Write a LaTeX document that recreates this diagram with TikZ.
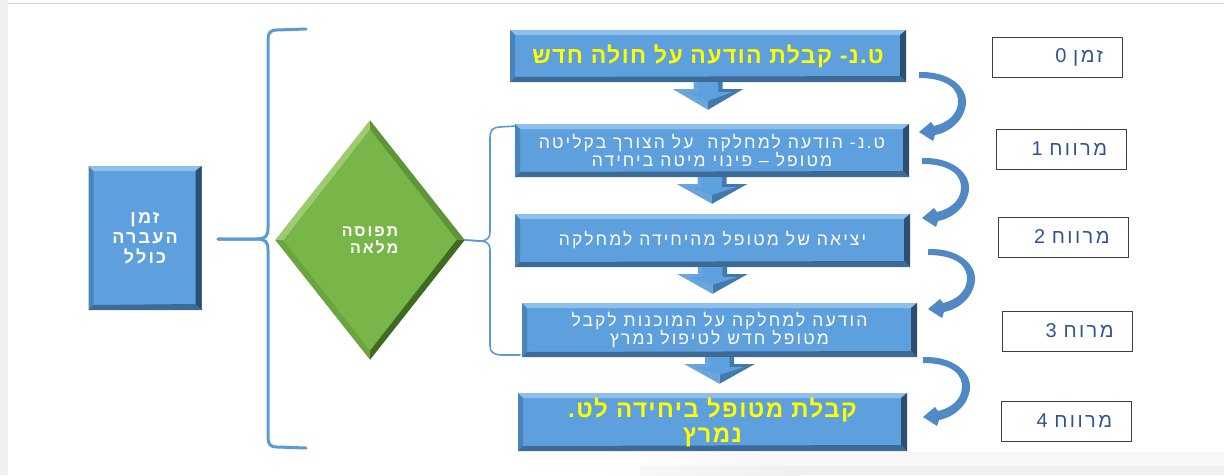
\documentclass[tikz,border=0pt]{standalone}
\usepackage{fontspec}
\setmainfont{Liberation Sans}
\newfontfamily\heb[Script=Hebrew]{Liberation Sans}
\newfontfamily\hebsp[Script=Hebrew,LetterSpace=12]{Liberation Sans}
\newfontfamily\hebmid[Script=Hebrew,LetterSpace=6]{Liberation Sans}
\TeXXeTstate=1
\usetikzlibrary{shapes.geometric,calc}
\newcommand\rtl[1]{\beginR #1\endR}
\definecolor{boxblue}{HTML}{5E9FDD}
\definecolor{bevlight}{HTML}{8FC0EC}
\definecolor{bevleft}{HTML}{4A84BD}
\definecolor{bevright}{HTML}{2D4E70}
\definecolor{bevbottom}{HTML}{3E6A96}
\definecolor{arrowlight}{HTML}{6AA6DE}
\definecolor{arrowdark}{HTML}{4479AE}
\definecolor{curvblue}{HTML}{5089C4}
\definecolor{diamgreen}{HTML}{79B64A}
\definecolor{glight}{HTML}{9CCB70}
\definecolor{gmid}{HTML}{5E9538}
\definecolor{gdark}{HTML}{3F6A22}
\definecolor{gleft}{HTML}{6CA540}
\definecolor{bracecol}{HTML}{5B9BD5}
\definecolor{labelblue}{HTML}{2F5496}
\definecolor{txtyellow}{HTML}{FFFF00}
\tikzset{
  bevelbox/.style={rectangle, fill=boxblue, inner sep=2pt, align=center,
    path picture={
      \coordinate (nw) at (path picture bounding box.north west);
      \coordinate (ne) at (path picture bounding box.north east);
      \coordinate (sw) at (path picture bounding box.south west);
      \coordinate (se) at (path picture bounding box.south east);
      \fill[bevlight] (nw) -- (ne) -- ($(ne)+(-6,5)$) -- ($(nw)+(5,5)$) -- cycle;
      \fill[bevleft] (nw) -- (sw) -- ($(sw)+(5,-5)$) -- ($(nw)+(5,5)$) -- cycle;
      \fill[bevright] (ne) -- (se) -- ($(se)+(-6,-6)$) -- ($(ne)+(-6,5)$) -- cycle;
      \fill[bevbottom] (sw) -- (se) -- ($(se)+(-6,-6)$) -- ($(sw)+(5,-5)$) -- cycle;
    }},
  yellowtxt/.style={text=txtyellow, font=\hebmid\bfseries\fontsize{23}{25}\selectfont},
  whitetxt/.style={text=white, font=\hebsp\fontsize{17.5}{18}\selectfont},
  timebox/.style={rectangle, draw=black!75, line width=0.9pt, fill=white,
    minimum height=40pt, text width=92pt, inner xsep=19pt, inner ysep=0pt,
    align=right, text=labelblue, font=\hebsp\fontsize{20}{20}\selectfont},
  bracestyle/.style={draw=bracecol, line cap=round, line join=round},
}
\newcommand\blockdown[3]{%
  \fill[arrowlight] let \p1=(#1.south), \p2=(#2.north) in
    (\x1-14.5pt,\y1) -- (\x1,\y1) -- (\x1,\y2+#3) -- (\x1-35pt,\y1-7pt) -- (\x1-14.5pt,\y1-7pt) -- cycle;
  \fill[arrowdark] let \p1=(#1.south), \p2=(#2.north) in
    (\x1+14.5pt,\y1) -- (\x1,\y1) -- (\x1,\y2+#3) -- (\x1+35pt,\y1-7pt) -- (\x1+14.5pt,\y1-7pt) -- cycle;
  \fill[boxblue] let \p1=(#1.south), \p2=(#2.north) in
    (\x1-10pt,\y1) -- (\x1+10pt,\y1) -- (\x1+10pt,\y1-10pt) -- (\x1+24pt,\y1-10pt) -- (\x1,\y2+#3+9pt) -- (\x1-24pt,\y1-10pt) -- (\x1-10pt,\y1-10pt) -- cycle;
}
\newcommand\curvarrow[1]{%
  \fill[curvblue, shift={(#1)}] (0,-3) .. controls (30,-4) and (48,12) .. (47,28)
    .. controls (46,44) and (32,57) .. (16,60) -- (14,66) -- (0,57) -- (12,47) -- (15,51)
    .. controls (28,48) and (38,40) .. (39,28) .. controls (40,14) and (28,3) .. (0,3) -- cycle;
}
\begin{document}
\begin{tikzpicture}[x=1pt,y=-1pt]
\useasboundingbox (0,0) rectangle (1224,475);
% page background
\fill[white] (0,0) rectangle (1224,475);
\fill[black!6] (0,0) rectangle (8,475);
\draw[black!18, line width=0.8pt] (8,3) -- (1224,3);
\shade[left color=white, right color=black!3] (600,452) rectangle (760,475);
\fill[black!3] (760,452) rectangle (1224,475);
\shade[left color=black!3, right color=black!6] (640,466) rectangle (800,475);
\fill[black!6] (800,466) rectangle (1224,475);

% left box
\node[bevelbox, minimum width=113pt, minimum height=144pt, text=white,
  font=\hebsp\bfseries\fontsize{18}{20}\selectfont] (lb) at (145,238)
  {\rtl{זמן}\\ \rtl{העברה}\\ \rtl{כולל}};

% big brace
\coordinate (bt) at (218,239);
\draw[bracestyle, line width=3pt] (306,29) -- (277,30) .. controls (270,30) and (268,33) .. (268,40)
  -- (268,228) .. controls (268,236) and (266,239) .. (256,239) -- (bt);
\draw[bracestyle, line width=3pt] (bt) -- (256,239) .. controls (266,239) and (268,242) .. (268,250)
  -- (268,437) .. controls (268,444) and (270,447) .. (277,447) -- (306,448);

% diamond
\node[diamond, fill=diamgreen, minimum width=189pt, minimum height=239pt, inner sep=0pt,
  align=right, text=white, font=\hebsp\bfseries\fontsize{16}{17}\selectfont] (d) at (370,240)
  {\rtl{תפוסה}\\ \rtl{מלאה}};
\fill[glight] (d.north) -- (d.west) -- ($(d.west)+(8,0)$) -- ($(d.north)+(0,9)$) -- cycle;
\fill[gmid] (d.north) -- (d.east) -- ($(d.east)+(-8,0)$) -- ($(d.north)+(0,9)$) -- cycle;
\fill[gdark] (d.east) -- (d.south) -- ($(d.south)+(0,-9)$) -- ($(d.east)+(-8,0)$) -- cycle;
\fill[gleft] (d.south) -- (d.west) -- ($(d.west)+(8,0)$) -- ($(d.south)+(0,-9)$) -- cycle;

% small brace
\draw[bracestyle, line width=1.6pt] (516,126) -- (500,127) .. controls (493,127) and (490,130) .. (490,138)
  -- (490,232) .. controls (490,238) and (487,241) .. (480,241) -- (d.east);
\draw[bracestyle, line width=1.6pt] (d.east) -- (480,241) .. controls (487,241) and (490,244) .. (490,250)
  -- (490,346) .. controls (490,352) and (494,355) .. (502,355) -- (520,355);

% step boxes
\node[bevelbox, minimum width=396pt, minimum height=52pt, yellowtxt] (b1) at (708,56)
  {\rtl{ט.נ- קבלת הודעה על חולה חדש}};
\node[bevelbox, minimum width=394pt, minimum height=53pt, whitetxt] (b2) at (712,150.5)
  {\rtl{ט.נ- הודעה למחלקה\ \ על הצורך בקליטה}\\ \rtl{מטופל – פינוי מיטה ביחידה}};
\node[bevelbox, minimum width=395pt, minimum height=53pt, whitetxt] (b3) at (712.5,240.5)
  {\rtl{יציאה של מטופל מהיחידה למחלקה}};
\node[bevelbox, minimum width=395pt, minimum height=54pt, whitetxt] (b4) at (719.5,330)
  {\rtl{הודעה למחלקה על המוכנות לקבל}\\ \rtl{מטופל חדש לטיפול נמרץ}};
\node[bevelbox, minimum width=389pt, minimum height=58pt, inner ysep=0pt, text=txtyellow,
  font=\hebmid\bfseries\fontsize{24}{25}\selectfont] (b5) at (712.5,422)
  {\rtl{קבלת מטופל ביחידה לט.}\\ \rtl{נמרץ}};

% block arrows down
\blockdown{b1}{b2}{14pt}
\blockdown{b2}{b3}{10pt}
\blockdown{b3}{b4}{9pt}
\blockdown{b4}{b5}{9pt}

% curved arrows
\coordinate (c1) at (919,75);
\coordinate (c2) at (922,161);
\coordinate (c3) at (928,252);
\coordinate (c4) at (923,360);
\curvarrow{c1}
\curvarrow{c2}
\curvarrow{c3}
\curvarrow{c4}

% time boxes
\node[timebox] (r0) at (1057,57) {\rtl{זמן 0}};
\node[timebox] (r1) at (1061,149) {\rtl{מרווח 1}};
\node[timebox] (r2) at (1063.5,237) {\rtl{מרווח 2}};
\node[timebox] (r3) at (1067.5,331) {\rtl{מרוח 3}};
\node[timebox] (r4) at (1066,421) {\rtl{מרווח 4}};
\end{tikzpicture}
\end{document}
